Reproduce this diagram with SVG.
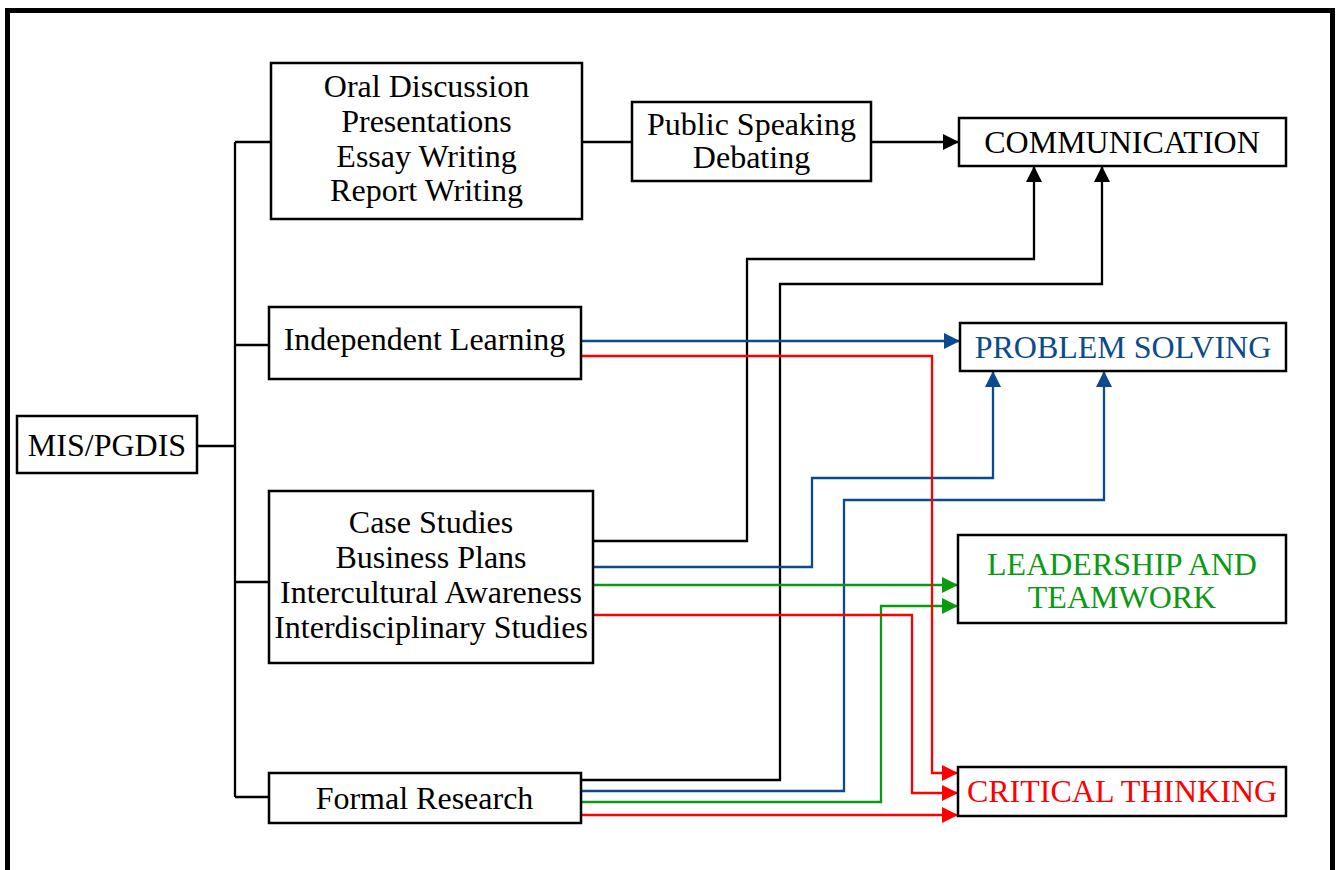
<svg xmlns="http://www.w3.org/2000/svg" width="1339" height="870" viewBox="0 0 1339 870">
<defs>
<style>
.box{fill:#fff;stroke:#000;stroke-width:2.5}
.t{font-family:"Liberation Serif","Times New Roman",serif;font-size:32px;text-anchor:middle;fill:#000}
.ln{fill:none;stroke-width:2.3}
.k{stroke:#000}.b{stroke:#0b4a8c}.g{stroke:#0a9a12}.r{stroke:#ff0000}
</style>
<marker id="ak" markerUnits="userSpaceOnUse" markerWidth="16" markerHeight="16" refX="16" refY="8" orient="auto"><path d="M0,0 L16,8 L0,16 z" fill="#000"/></marker>
<marker id="ab" markerUnits="userSpaceOnUse" markerWidth="16" markerHeight="16" refX="16" refY="8" orient="auto"><path d="M0,0 L16,8 L0,16 z" fill="#0b4a8c"/></marker>
<marker id="ag" markerUnits="userSpaceOnUse" markerWidth="16" markerHeight="16" refX="16" refY="8" orient="auto"><path d="M0,0 L16,8 L0,16 z" fill="#0a9a12"/></marker>
<marker id="ar" markerUnits="userSpaceOnUse" markerWidth="16" markerHeight="16" refX="16" refY="8" orient="auto"><path d="M0,0 L16,8 L0,16 z" fill="#ff0000"/></marker>
</defs>
<rect x="0" y="0" width="1339" height="870" fill="#fff"/>
<rect id="frame" x="7.5" y="10.5" width="1325" height="900" fill="none" stroke="#000" stroke-width="5"/>
<g id="connectors">
<path class="ln k" d="M197,446 H235 M235,142 V797 M235,142 H271 M235,345 H269 M235,582 H269 M235,797 H269"/>
<path class="ln k" d="M582,142 H632"/>
<path class="ln k" d="M871,142 H959" marker-end="url(#ak)"/>
<path class="ln k" d="M593,541 H747 V259 H1034 V166" marker-end="url(#ak)"/>
<path class="ln k" d="M581,780 H780 V284 H1102 V166" marker-end="url(#ak)"/>
<path class="ln b" d="M581,341 H960" marker-end="url(#ab)"/>
<path class="ln b" d="M593,567 H812 V478 H993 V371" marker-end="url(#ab)"/>
<path class="ln b" d="M581,791 H844 V500 H1104 V371" marker-end="url(#ab)"/>
<path class="ln g" d="M593,585 H958" marker-end="url(#ag)"/>
<path class="ln g" d="M581,802 H881 V606 H958" marker-end="url(#ag)"/>
<path class="ln r" d="M581,356 H932 V773 H958" marker-end="url(#ar)"/>
<path class="ln r" d="M593,615 H912 V793 H958" marker-end="url(#ar)"/>
<path class="ln r" d="M581,815 H958" marker-end="url(#ar)"/>
</g>
<g id="mis"><rect class="box" x="17" y="416" width="180" height="57"/><text class="t" x="107" y="456">MIS/PGDIS</text></g>
<g id="oral"><rect class="box" x="271" y="63" width="311" height="156"/>
<text class="t" x="426.5" y="97">Oral Discussion</text><text class="t" x="426.5" y="132">Presentations</text><text class="t" x="426.5" y="167">Essay Writing</text><text class="t" x="426.5" y="201">Report Writing</text></g>
<g id="public"><rect class="box" x="632" y="102" width="239" height="79"/>
<text class="t" x="751.5" y="135">Public Speaking</text><text class="t" x="751.5" y="168">Debating</text></g>
<g id="communication"><rect class="box" x="959" y="118" width="327" height="48"/><text class="t" x="1122" y="153">COMMUNICATION</text></g>
<g id="independent"><rect class="box" x="269" y="307" width="312" height="72"/><text class="t" x="424.5" y="350">Independent Learning</text></g>
<g id="problem"><rect class="box" x="960" y="323" width="326" height="48"/><text class="t" x="1123" y="358" style="fill:#0b4a8c">PROBLEM SOLVING</text></g>
<g id="case"><rect class="box" x="269" y="491" width="324" height="172"/>
<text class="t" x="431" y="533">Case Studies</text><text class="t" x="431" y="568">Business Plans</text><text class="t" x="431" y="603">Intercultural Awareness</text><text class="t" x="431" y="638">Interdisciplinary Studies</text></g>
<g id="leadership"><rect class="box" x="958" y="535" width="328" height="88"/>
<text class="t" x="1122" y="575" style="fill:#0a9a12">LEADERSHIP AND</text><text class="t" x="1122" y="608" style="fill:#0a9a12">TEAMWORK</text></g>
<g id="formal"><rect class="box" x="269" y="773" width="312" height="50"/><text class="t" x="424.5" y="809">Formal Research</text></g>
<g id="critical"><rect class="box" x="958" y="767" width="328" height="49"/><text class="t" x="1122" y="802" style="fill:#ff0000">CRITICAL THINKING</text></g>
</svg>
